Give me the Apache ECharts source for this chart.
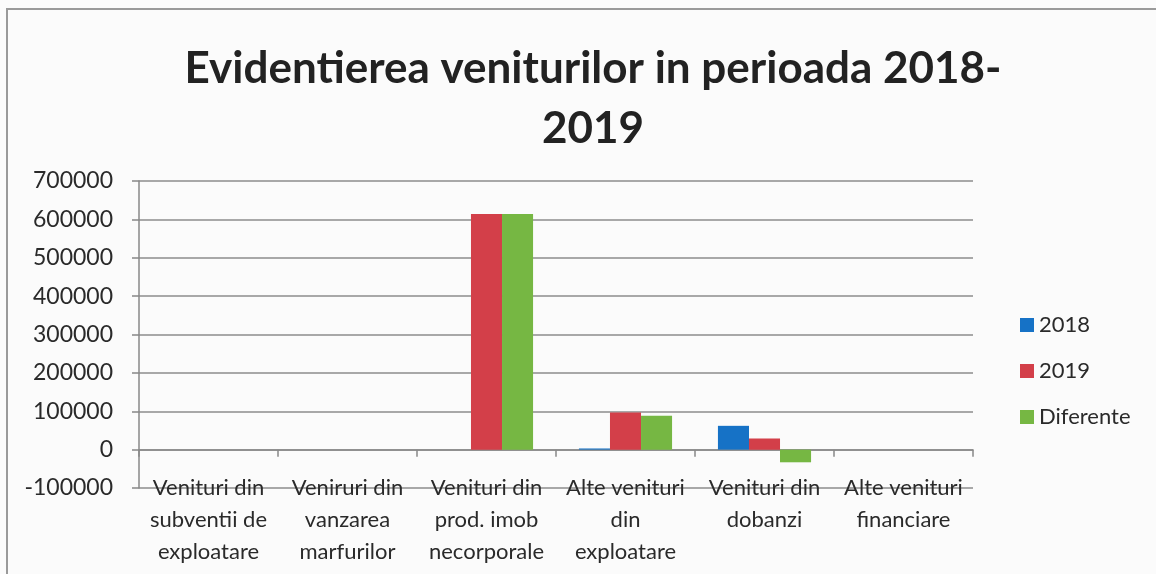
<!DOCTYPE html>
<html><head><meta charset="utf-8">
<script src="https://cdn.jsdelivr.net/npm/echarts@6/dist/echarts.min.js"></script>
<style>html,body{margin:0;padding:0;background:#fbfbfb}#c{width:1156px;height:574px}</style>
</head><body><div id="c"></div>
<script>
const categories = [
  'Venituri din\nsubventii de\nexploatare',
  'Veniruri din\nvanzarea\nmarfurilor',
  'Venituri din\nprod. imob\nnecorporale',
  'Alte venituri\ndin\nexploatare',
  'Venituri din\ndobanzi',
  'Alte venituri\nfinanciare'
];
const seriesNames = ['2018', '2019', 'Diferente'];
const values2018 = [0, 0, 0, 3000, 62000, 0];
const values2019 = [0, 0, 614000, 97000, 29000, 0];
const valuesDif = [0, 0, 614000, 88000, -33000, 0];
const yMin = -100000, yMax = 700000, yStep = 100000;
const titleText = 'Evidentierea veniturilor in perioada 2018-\n2019';
const colors = ['#1672c6', '#d33f49', '#76b743'];

const FONT = 'Lato';
const chart = echarts.init(document.getElementById('c'));
const allValues = [values2018, values2019, valuesDif];
chart.setOption({
  backgroundColor: '#fbfbfb',
  animation: false,
  color: colors,
  title: {
    text: titleText, left: 588, top: 34, textAlign: 'center',
    textStyle: { fontFamily: FONT, fontWeight: 'bold', fontSize: 44, lineHeight: 60, color: '#222' }
  },
  legend: {
    orient: 'vertical', left: 1015, top: 309, itemWidth: 14, itemHeight: 14, itemGap: 24,
    icon: 'rect',
    textStyle: { fontFamily: FONT, fontSize: 22, color: '#2a2a2a' },
    data: seriesNames
  },
  grid: { left: 139, right: 183, top: 181, bottom: 86, outerBoundsMode: 'none', containLabel: false },
  xAxis: {
    type: 'category', data: categories,
    axisLine: { onZero: true, lineStyle: { color: '#888', width: 1.5 } },
    axisTick: { show: true, length: 7, alignWithLabel: false, lineStyle: { color: '#888', width: 1.5 } },
    axisLabel: { interval: 0, margin: -16, fontFamily: FONT, fontSize: 22, lineHeight: 32, color: '#2a2a2a' }
  },
  yAxis: {
    type: 'value', min: yMin, max: yMax, interval: yStep,
    axisLine: { show: true, lineStyle: { color: '#888', width: 1.5 } },
    axisTick: { show: true, length: 7, lineStyle: { color: '#888', width: 1.5 } },
    axisLabel: { margin: 26, fontFamily: FONT, fontSize: 23, color: '#2a2a2a', formatter: v => String(v) },
    splitLine: { lineStyle: { color: '#8c8c8c', width: 1.5 } }
  },
  series: seriesNames.map((n, i) => ({
    name: n, type: 'bar', data: allValues[i],
    barGap: 0, barCategoryGap: '33%'
  })),
  graphic: [{
    type: 'rect', silent: true, z: -1,
    shape: { x: 7, y: 9, width: 1400, height: 800 },
    style: { fill: 'none', stroke: '#9a9a9a', lineWidth: 2 }
  }]
});
</script>
</body></html>
